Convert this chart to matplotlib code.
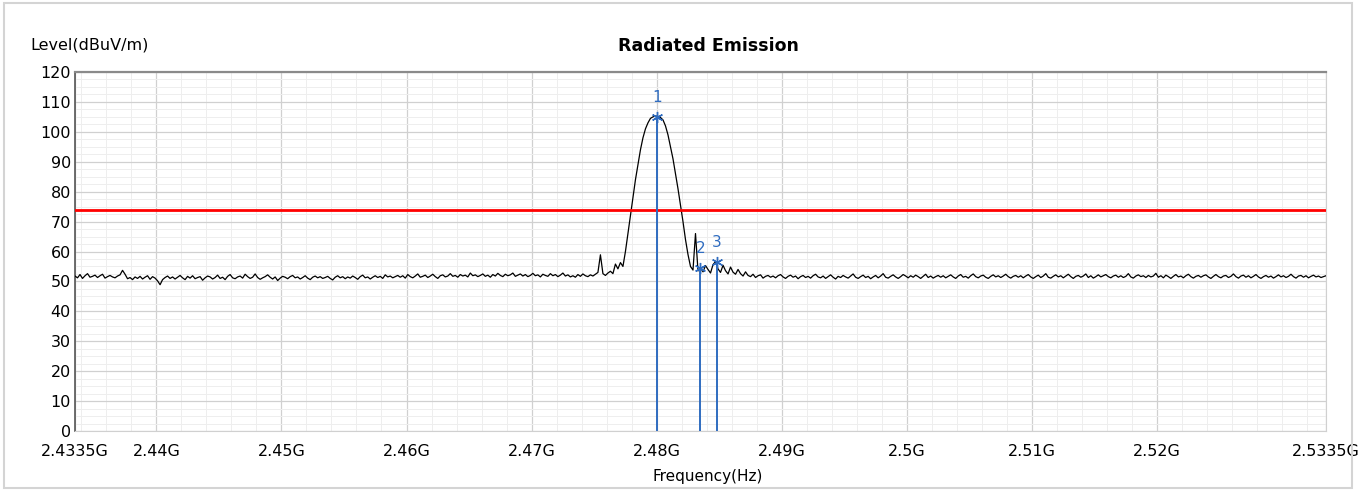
import matplotlib
matplotlib.use('Agg')
import matplotlib.pyplot as plt
import numpy as np

# frequency span (GHz) and measured trace level (dBuV/m), 0.2 MHz steps
f_start = 2.4335
f_stop = 2.5335

level = [
    51.8, 51.2, 52.3, 51.0, 51.9, 52.6, 51.4, 51.7, 52.1, 51.3,
    51.9, 52.4, 51.1, 51.6, 52.0, 51.5, 51.2, 51.8, 52.2, 53.7,
    52.4, 50.9, 51.3, 50.6, 51.5, 51.0, 51.7, 50.8, 51.4, 51.9,
    50.7, 51.6, 51.1, 50.2, 48.9, 50.6, 51.3, 51.8, 51.0, 51.5,
    50.8, 51.4, 52.0, 51.2, 50.6, 51.7, 51.1, 51.9, 50.9, 51.3,
    51.6, 50.4, 51.2, 51.8, 51.5, 50.8, 51.3, 52.1, 51.0, 51.4,
    50.6, 51.7, 52.3, 51.2, 50.9, 51.5, 51.8, 51.1, 52.4, 51.6,
    51.0, 51.4, 52.5, 51.3, 50.7, 51.2, 51.6, 52.2, 51.4, 50.8,
    51.5, 50.3, 51.1, 51.7, 51.4, 50.9, 51.6, 52.0, 51.2, 51.5,
    50.8, 51.3, 51.9, 51.1, 50.6, 51.4, 51.8, 51.2, 51.6, 51.0,
    51.3, 51.7, 51.0, 50.5, 51.4, 51.9, 51.2, 51.6, 50.9, 51.5,
    51.1, 51.8, 51.3, 50.7, 51.6, 52.1, 51.2, 51.5, 50.8, 51.4,
    51.9, 51.3, 51.7, 51.0, 52.2, 51.5, 51.8, 51.2, 51.6, 52.0,
    51.4, 51.9, 51.1, 52.3, 51.6, 51.2, 51.8, 52.5, 51.4, 51.7,
    52.1, 51.3, 51.8, 52.4, 51.6, 51.0, 51.9, 52.2, 51.5, 51.8,
    52.6, 51.7, 52.0, 51.4, 52.3, 51.8, 52.1, 51.5, 52.8, 51.9,
    52.2, 51.6, 52.0, 52.5, 51.7, 52.1, 51.4, 52.3, 51.8, 52.7,
    52.0, 51.6, 52.4, 51.9, 52.2, 52.8, 51.7, 52.1, 52.5, 51.8,
    52.3, 51.6, 52.0, 52.7, 51.9, 52.2, 51.5, 52.4, 52.0, 51.7,
    52.6, 51.9, 52.3, 51.6, 52.1, 52.8, 51.8, 52.2, 51.5, 51.9,
    51.4, 52.3, 51.7, 52.5, 51.9, 51.6, 52.2, 51.8, 52.4, 53.0,
    58.9, 52.6, 52.0, 52.8, 53.4, 52.6, 55.8, 54.2, 56.3, 55.0,
    60.0, 66.0, 72.0, 78.0, 84.0, 89.0, 94.0, 98.0, 101.0, 103.0,
    104.5, 105.0, 105.3, 105.2, 104.8, 104.0, 102.0, 99.0, 95.0, 91.0,
    86.0, 81.0, 75.5, 70.0, 64.0, 59.0, 55.0, 53.8, 66.0, 53.5,
    54.5, 53.2, 55.3, 54.0, 52.8, 55.6, 56.6, 54.2, 53.0, 55.4,
    53.6, 52.5, 54.8, 53.1, 52.4, 54.0, 52.6, 51.8, 53.2, 52.0,
    51.6, 52.4, 51.3, 51.9, 52.2, 51.1, 51.7, 52.0, 51.4, 51.8,
    51.2, 51.9, 52.3, 51.5, 51.0, 51.7, 52.1, 51.4, 51.8, 50.9,
    51.6, 52.0, 51.3, 51.7, 51.1, 51.9, 52.4, 51.5, 51.2, 51.8,
    51.0, 51.6, 52.2, 51.4, 50.8, 51.7, 51.3, 52.0, 51.5, 51.1,
    51.8, 52.5, 51.4, 51.0, 51.6, 52.1, 51.3, 51.7, 50.9, 51.5,
    52.0, 51.2, 51.8, 52.6, 51.4, 51.1, 51.7, 52.2, 51.5, 51.0,
    51.6, 52.3, 51.8, 51.2, 51.9, 51.4, 52.1, 51.6, 51.0, 51.7,
    52.4, 51.3, 51.8, 51.1, 51.6, 52.0, 51.4, 51.9, 51.2, 51.7,
    52.2, 51.5, 51.0, 51.8, 52.3, 51.4, 51.7, 51.1, 51.9, 52.5,
    51.6, 51.2, 51.8, 52.1, 51.4, 51.0, 51.7, 52.2, 51.5, 51.9,
    51.3, 51.8, 52.4, 51.6, 51.1, 51.7, 52.0, 51.4, 51.9, 51.2,
    51.8, 52.3, 51.5, 51.0, 51.6, 52.1, 51.3, 51.8, 52.6, 51.4,
    51.1, 51.7, 52.2, 51.5, 51.9, 51.2, 51.8, 52.4, 51.6, 51.0,
    51.7, 52.0, 51.4, 51.8, 52.5, 51.3, 51.9, 51.1, 51.6, 52.2,
    51.5, 51.9, 52.3, 51.6, 51.2, 51.8, 52.1, 51.4, 51.9, 51.3,
    51.7, 52.6, 51.5, 51.1, 51.8, 52.2, 51.6, 51.9, 51.3, 52.0,
    51.5, 51.8, 52.7, 51.4, 51.9, 51.2, 52.1, 51.6, 51.0, 51.7,
    52.3, 51.5, 51.8, 51.2, 51.9, 52.4, 51.6, 51.1, 51.7, 52.0,
    51.4, 51.9, 52.2, 51.5, 51.0, 51.7, 52.3, 51.6, 51.2, 51.8,
    52.0, 51.3, 51.7, 52.5, 51.6, 51.1, 51.8, 52.1, 51.4, 51.9,
    51.2, 51.7, 52.3, 51.5, 51.0, 51.6, 52.0, 51.4, 51.8, 51.1,
    51.6, 52.2, 51.5, 51.9, 51.3, 51.7, 52.4, 51.6, 51.1, 51.8,
    52.0, 51.4, 51.9, 51.2, 51.7, 52.1, 51.5, 51.8, 51.3, 51.6,
    51.9,
]
freq = np.linspace(f_start, f_stop, len(level))

limit = 74.0

marker_id = ['1', '2', '3']
marker_freq = [2.4800, 2.4835, 2.4848]
marker_level = [105.0, 54.5, 56.6]

xtick_pos = [2.4335, 2.44, 2.45, 2.46, 2.47, 2.48, 2.49, 2.50, 2.51, 2.52, 2.5335]
xtick_lab = ['2.4335G', '2.44G', '2.45G', '2.46G', '2.47G', '2.48G',
             '2.49G', '2.5G', '2.51G', '2.52G', '2.5335G']
ytick_pos = list(range(0, 121, 10))

fig = plt.figure(figsize=(13.68, 4.91), dpi=100)
fig.patch.set_facecolor('white')

# light frame round the whole picture
fig.add_artist(plt.Rectangle((0.003, 0.006), 0.985, 0.988, transform=fig.transFigure,
                             fill=False, edgecolor='#d4d4d4', linewidth=1.5))

ax = fig.add_axes([75/1368, 60/491, 1251/1368, 359/491])
ax.set_xlim(f_start, f_stop)
ax.set_ylim(0, 120)

ax.set_xticks(xtick_pos)
ax.set_xticklabels(xtick_lab)
ax.set_yticks(ytick_pos)
ax.set_xticks(np.arange(2.434, 2.5335, 0.002), minor=True)
ax.set_yticks(np.arange(0, 120, 2.5), minor=True)
ax.tick_params(which='both', length=0, labelsize=11.5)
ax.tick_params(axis='x', pad=9)
ax.tick_params(axis='y', pad=3)

ax.grid(which='major', color='#d0d0d0', linewidth=0.9)
ax.grid(which='minor', color='#eeeeee', linewidth=0.7)
ax.set_axisbelow(True)

for s in ['right', 'bottom']:
    ax.spines[s].set_color('#d0d0d0')
ax.spines['top'].set_color('#8a8a8a')
ax.spines['top'].set_linewidth(1.6)
ax.spines['left'].set_color('#555555')
ax.spines['left'].set_linewidth(1.2)

ax.plot(freq, level, color='black', linewidth=0.9, zorder=3)
ax.axhline(limit, color='#ff0000', linewidth=2, zorder=4)

for mid, mf, ml in zip(marker_id, marker_freq, marker_level):
    ax.vlines(mf, 0, ml, color='#2f6cc0', linewidth=1.4, zorder=5)
    ax.plot(mf, ml, marker=(6, 2, 0), color='#2f6cc0', markersize=8, zorder=6)
    ax.text(mf, ml + 4, mid, color='#2f6cc0', fontsize=11, ha='center', va='bottom')

fig.text(30/1368, 1 - 45/491, 'Level(dBuV/m)', fontsize=11.5, va='center', ha='left')
fig.text(708/1368, 1 - 46/491, 'Radiated Emission', fontsize=12.5, fontweight='bold',
         va='center', ha='center')
fig.text(708/1368, 1 - 477/491, 'Frequency(Hz)', fontsize=11, va='center', ha='center')

fig.savefig('out.png', dpi=100)
